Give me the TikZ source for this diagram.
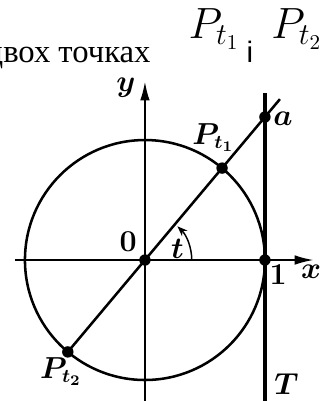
\documentclass[tikz,border=0pt]{standalone}
\usepackage{fontspec}
\setmainfont{Liberation Serif}
\newfontfamily\conjfont{Liberation Sans}
\usetikzlibrary{arrows.meta,calc}

\begin{document}
\begin{tikzpicture}[x=2cm,y=2cm,
    dot/.style={circle, fill, inner sep=0pt, minimum size=0.19cm},
    axis/.style={-{Latex[length=0.32cm,width=0.16cm]}, line width=1pt},
    curve/.style={line width=1.2pt},
    lbl/.style={font=\boldmath\fontsize{13.5}{15}\selectfont, inner sep=0pt},
    head/.style={inner sep=0pt, font=\fontsize{15.5}{18}\selectfont},
    big/.style={inner sep=0pt, font=\fontsize{20}{22}\selectfont}
]
    \useasboundingbox (-1.208,-1.175) rectangle (1.467,2.167);

    % Text line above the picture
    \node[head, anchor=base east] (words) at (0.05,1.65) {двох точках};
    \node[big, anchor=base west] (pone) at (0.36,1.85) {$P_{t_1}$};
    \node[head, anchor=base, font=\conjfont\fontsize{14}{16}\selectfont] (conj) at (0.875,1.65) {і};
    \node[big, anchor=base west] (ptwo) at (1.05,1.85) {$P_{t_2}$};

    % Axes and tangent
    \coordinate (xl) at (-1.083,0);
    \coordinate (xr) at (1.408,0);
    \coordinate (yb) at (0,-1.175);
    \coordinate (yt) at (0,1.49);
    \coordinate (tb) at (1,-1.175);
    \coordinate (tt) at (1,1.39);
    \draw[axis] (xl) -- (xr);
    \draw[axis] (yb) -- (yt);
    \draw[curve] (0,0) circle (1);
    \draw[line width=1.9pt] (tb) -- (tt);

    % Points
    \node[dot] (O) at (0,0) {};
    \node[dot] (E) at (1,0) {};
    \node[dot] (Pa) at (50:1) {};
    \node[dot] (Pb) at (230:1) {};
    \node[dot] (A) at (1,{tan(50)}) {};
    \coordinate (Lend) at ($(O)!1.125!(A)$);
    \draw[curve] (Pb.center) -- (Lend);

    % Angle t
    \draw[line width=0.7pt, -{Stealth[length=0.17cm,width=0.13cm]}] (0.39,0) arc (0:46:0.39);

    % Labels
    \node[lbl] (ylab) at (-0.158,1.44) {$y$};
    \node[lbl] (xlab) at (1.385,-0.1) {$x$};
    \node[lbl] (olab) at (-0.14,0.15) {$0$};
    \node[lbl] (onelab) at (1.11,-0.12) {$1$};
    \node[lbl] (tlab) at (0.27,0.09) {$t$};
    \node[lbl] (alab) at (1.15,1.18) {$a$};
    \node[lbl] (Tlab) at (1.18,-1.03) {$T$};
    \node[lbl] (Palab) at (0.57,1.02) {$P_{t_1}$};
    \node[lbl] (Pblab) at (-0.7,-0.93) {$P_{t_2}$};
\end{tikzpicture}
\end{document}
